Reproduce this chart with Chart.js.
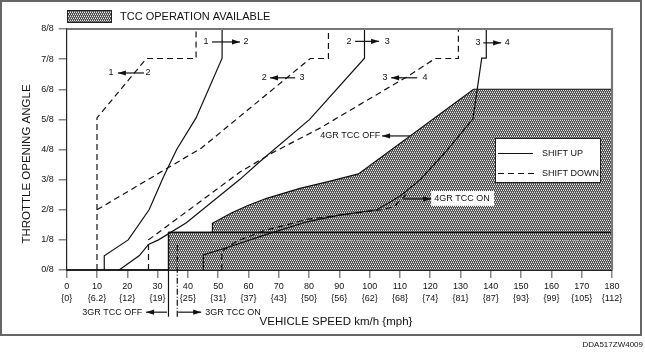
<!DOCTYPE html>
<html><head><meta charset="utf-8">
<script src="https://cdn.jsdelivr.net/npm/chart.js@4.4.1/dist/chart.umd.min.js"></script>
<style>html,body{margin:0;padding:0;background:#fff;}canvas{display:block;}</style>
</head><body>
<canvas id="c" width="645" height="355"></canvas>
<script>
// ---- data (km/h, throttle in eighths) ----
const mphLabels = ['{0}','{6.2}','{12}','{19}','{25}','{31}','{37}','{43}','{50}','{56}','{62}','{68}','{74}','{81}','{87}','{93}','{99}','{105}','{112}'];
const throttleLabels = ['0/8','1/8','2/8','3/8','4/8','5/8','6/8','7/8','8/8'];
const up12   = [[12.4,0],[12.4,0.47],[20.3,1.0],[27.2,2.0],[32,3.1],[36.3,4.0],[42.7,5.05],[51.3,7.03],[51.3,8]];
const down12 = [[10,0],[10,5.05],[26.3,7.02],[42.7,7.02],[42.7,8]];
const up23   = [[17.3,0],[24,0.48],[27,0.85],[30.3,1.0],[39.5,1.57],[57.2,3.01],[63.8,3.6],[80.2,5.0],[98.3,7.03],[98.3,8]];
const down23 = [[10,2.0],[44.5,4.05],[80.4,7.02],[86.4,7.02],[86.4,8]];
const up34   = [[45.1,0],[45.1,0.5],[54,0.78],[65,1.15],[79.3,1.6],[90,1.82],[102.4,2.0],[110,2.45],[116.7,3.0],[124.9,3.9],[134.1,5.02],[137,7.03],[138.5,7.03],[138.5,8]];
const down34 = [[27,0],[27,1.0],[57.2,3.25],[67.7,3.88],[83.6,4.71],[113.4,6.48],[121.6,7.02],[129.3,7.02],[129.3,8]];
const tcc4   = [[51.2,0],[51.2,0.62],[56,0.95],[65,1.3],[79.3,1.68],[92,1.85],[104,2.0],[108,2.1],[112,2.5]];
const tccArea = [[33.6,0],[33.6,1.25],[48.1,1.25],[48.1,1.55],[54.5,1.9],[60,2.15],[66,2.38],[77,2.71],[87,2.95],[96.3,3.19],[134.3,6.0],[180,6.0],[180,0]];
const tcc3Top = [[33.6,1.25],[180,1.25]];
const faintLow = [[48.1,0.97],[180,0.97]];
const faintHigh = [[134.8,5.04],[180,5.04]];
const tcc3OffLine = [[33.6,-1.55],[33.6,1.25]];
const tcc3OnLine = [[36.5,-1.55],[36.5,0.87]];

// shift arrow labels (data units)
const shiftLabels = [
  {a:'1', b:'2', ax:46.0, bx:59.2, t0:48.0, t1:57.2, y:7.57},
  {a:'1', b:'2', ax:14.6, bx:26.8, t0:25.5, t1:16.9, y:6.54},
  {a:'2', b:'3', ax:93.2, bx:105.8, t0:95.2, t1:103.1, y:7.59},
  {a:'2', b:'3', ax:65.2, bx:77.7, t0:75.4, t1:67.1, y:6.38},
  {a:'3', b:'4', ax:135.8, bx:145.4, t0:137.5, t1:143.4, y:7.54},
  {a:'3', b:'4', ax:105.1, bx:118.3, t0:115.7, t1:107.1, y:6.38}
];

function pts(a){return a.map(p=>({x:p[0],y:p[1]}));}

function makePattern(){
  const c=document.createElement('canvas'); c.width=4; c.height=4;
  const g=c.getContext('2d');
  g.fillStyle='#4a4a4a'; g.fillRect(0,0,4,4);
  g.fillStyle='#ececec';
  [[0,0],[2,0],[1,2],[3,2]].forEach(p=>g.fillRect(p[0],p[1],1,1));
  g.fillStyle='#8a8a8a';
  [[1,1],[3,1],[0,3],[2,3]].forEach(p=>g.fillRect(p[0],p[1],1,1));
  return g.createPattern(c,'repeat');
}
const pat = makePattern();

function line(data, dash, extra){
  return Object.assign({data:pts(data), borderColor:'#111', borderWidth:1.2, borderDash:dash||[], pointRadius:0, fill:false, tension:0}, extra||{});
}

const FONT = "'Liberation Sans', Arial, Helvetica, sans-serif";
Chart.defaults.font.family = FONT;

function arrow(ctx,x1,y1,x2,y2){
  ctx.beginPath(); ctx.moveTo(x1,y1); ctx.lineTo(x2,y2); ctx.stroke();
  const ang=Math.atan2(y2-y1,x2-x1), L=8, W=2.6;
  ctx.beginPath();
  ctx.moveTo(x2,y2);
  ctx.lineTo(x2-L*Math.cos(ang)+W*Math.sin(ang), y2-L*Math.sin(ang)-W*Math.cos(ang));
  ctx.lineTo(x2-L*Math.cos(ang)-W*Math.sin(ang), y2-L*Math.sin(ang)+W*Math.cos(ang));
  ctx.closePath(); ctx.fill();
}

const deco = {
  id:'deco',
  afterDatasetsDraw(chart){
    const ctx=chart.ctx, xs=chart.scales.x, ys=chart.scales.y, a=chart.chartArea;
    const X=v=>xs.getPixelForValue(v), Y=v=>ys.getPixelForValue(v);
    ctx.save();
    // plot frame top/right
    ctx.strokeStyle='#777'; ctx.lineWidth=2.2;
    ctx.beginPath(); ctx.moveTo(a.left,a.top); ctx.lineTo(a.right,a.top); ctx.lineTo(a.right,a.bottom); ctx.stroke();
    // shift labels
    ctx.fillStyle='#111'; ctx.strokeStyle='#111'; ctx.lineWidth=1.2;
    ctx.font='9px '+FONT; ctx.textBaseline='middle'; ctx.textAlign='center';
    shiftLabels.forEach(s=>{
      ctx.fillText(s.a, X(s.ax), Y(s.y));
      ctx.fillText(s.b, X(s.bx), Y(s.y));
      arrow(ctx, X(s.t0), Y(s.y), X(s.t1), Y(s.y));
    });
    // 4GR TCC OFF
    ctx.textAlign='right';
    ctx.fillText('4GR TCC OFF', X(103.5), Y(4.45));
    arrow(ctx, X(113.4), Y(4.45), X(104.1), Y(4.45));
    // 4GR TCC ON
    ctx.fillStyle='#fff'; ctx.fillRect(X(120.3), Y(2.62), X(141.1)-X(120.3), Y(2.13)-Y(2.62));
    ctx.fillStyle='#111'; ctx.textAlign='left';
    ctx.fillText('4GR TCC ON', X(121.3), Y(2.36));
    arrow(ctx, X(111.1), Y(2.36), X(120.3), Y(2.36));
    // 3GR TCC OFF / ON
    ctx.textAlign='right';
    ctx.fillText('3GR TCC OFF', X(24.9), Y(-1.40));
    arrow(ctx, X(33.1), Y(-1.40), X(26.2), Y(-1.40));
    ctx.textAlign='left';
    ctx.fillText('3GR TCC ON', X(45.7), Y(-1.40));
    arrow(ctx, X(36.8), Y(-1.40), X(44.4), Y(-1.40));
    // shift legend box
    ctx.fillStyle='#fff'; ctx.fillRect(495,138.5,105.5,44);
    ctx.strokeStyle='#222'; ctx.lineWidth=1; ctx.strokeRect(495.5,138.5,105,44);
    ctx.lineWidth=1.2; ctx.strokeStyle='#111';
    ctx.beginPath(); ctx.moveTo(498,153.5); ctx.lineTo(533,153.5); ctx.stroke();
    ctx.setLineDash([6,4]);
    ctx.beginPath(); ctx.moveTo(498,173.5); ctx.lineTo(534,173.5); ctx.stroke();
    ctx.setLineDash([]);
    ctx.fillStyle='#111'; ctx.textAlign='left';
    ctx.fillText('SHIFT UP', 542, 153.5);
    ctx.fillText('SHIFT DOWN', 542, 173.5);
    // top legend
    ctx.fillStyle=pat; ctx.fillRect(67,10,45,12.5);
    ctx.strokeStyle='#222'; ctx.lineWidth=1; ctx.strokeRect(67.5,10.5,44,12);
    ctx.fillStyle='#111'; ctx.font='11px '+FONT; ctx.textAlign='left';
    ctx.fillText('TCC OPERATION AVAILABLE', 120, 16.5);
    // axis titles
    ctx.font='11.5px '+FONT; ctx.textAlign='center';
    ctx.fillText('VEHICLE SPEED km/h {mph}', 336, 322);
    ctx.save(); ctx.translate(27,164); ctx.rotate(-Math.PI/2);
    ctx.fillText('THROTTLE OPENING ANGLE', 0, 0); ctx.restore();
    // outer frame
    ctx.strokeStyle='#666'; ctx.lineWidth=2; ctx.strokeRect(1,1,640,334);
    ctx.font='8px '+FONT; ctx.textAlign='right'; ctx.fillStyle='#111';
    ctx.fillText('DDA517ZW4009', 643, 345);
    ctx.restore();
  }
};

new Chart(document.getElementById('c'), {
  type:'line',
  data:{ datasets:[
    line(tccArea, [], {fill:'origin', backgroundColor:pat, borderWidth:1.2, order:10}),
    line(faintLow, [6,3], {borderColor:'#b0b0b0', borderWidth:1, order:9}),
    line(faintHigh, [], {borderColor:'#aaa', borderWidth:1, order:9}),
    line(tcc3Top),
    line(tcc3OffLine, [], {clip:false}),
    line(tcc3OnLine, [6,2,1,2], {clip:false}),
    line(up12), line(down12,[6,4]),
    line(up23), line(down23,[6,4]),
    line(up34), line(down34,[6,4]),
    line(tcc4,[6,4])
  ]},
  options:{
    responsive:false, animation:false, devicePixelRatio:1,
    layout:{padding:{left:0,right:33,top:29,bottom:0}},
    plugins:{legend:{display:false}, tooltip:{enabled:false}},
    scales:{
      x:{type:'linear', min:0, max:180,
        afterFit(s){s.height=85;},
        grid:{drawOnChartArea:false, drawTicks:true, tickLength:8, color:'#888', lineWidth:1.5},
        border:{display:true, color:'#222', width:2},
        ticks:{stepSize:10, autoSkip:false, maxRotation:0, padding:3, color:'#111',
          font:{size:9, lineHeight:1.3},
          callback:(v,i)=>[String(v), mphLabels[i]]}},
      y:{type:'linear', min:0, max:8,
        afterFit(s){s.width=66.7;},
        grid:{drawOnChartArea:false, drawTicks:true, tickLength:8, color:'#888', lineWidth:1.5},
        border:{display:true, color:'#222', width:1.2},
        ticks:{stepSize:1, padding:5, color:'#111', font:{size:9},
          callback:(v,i)=>throttleLabels[i]}}
    }
  },
  plugins:[deco]
});
</script>
</body></html>
